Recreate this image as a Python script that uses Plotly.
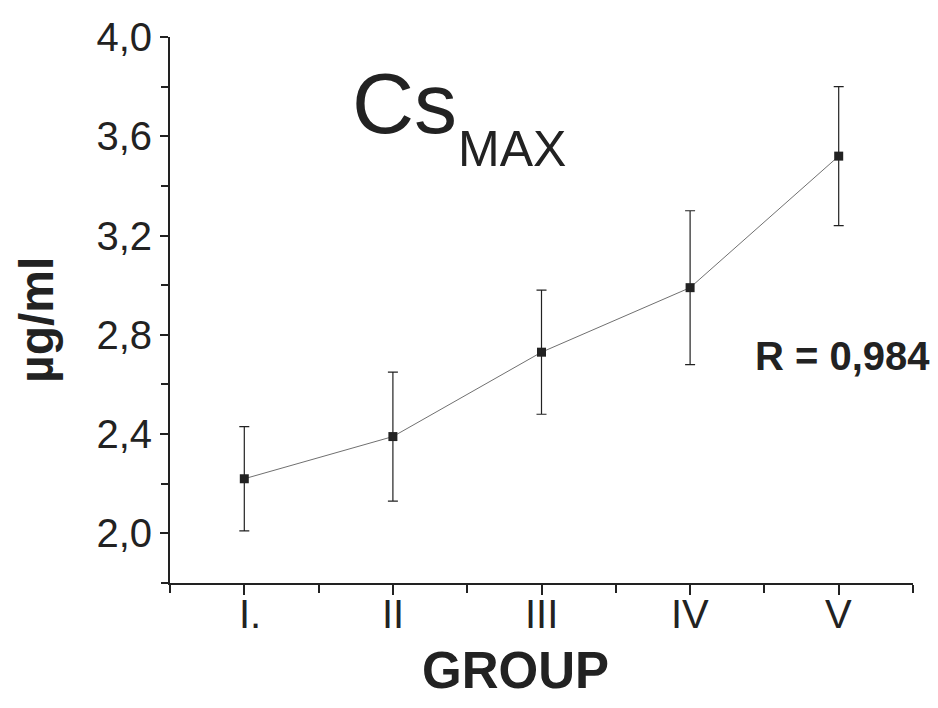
import plotly.graph_objects as go

groups = [1, 2, 3, 4, 5]
group_labels = ["I.", "II", "III", "IV", "V"]
cs_max = [2.22, 2.39, 2.73, 2.99, 3.52]
err = [0.21, 0.26, 0.25, 0.31, 0.28]

ML, MR, MT, MB = 170, 25, 37, 125
W, H = 938, 708
pw = W - ML - MR
ph = H - MT - MB
def px(xp):
    return (xp - ML) / pw
def py(yp):
    return 1 - (yp - MT) / ph

ink = "#222222"
ff = "Liberation Sans, Arial, sans-serif"

fig = go.Figure()
fig.add_trace(go.Scatter(
    x=groups, y=cs_max, mode="lines+markers",
    line=dict(color="#707070", width=1),
    marker=dict(symbol="square", size=9, color=ink),
    error_y=dict(type="data", array=err, visible=True, color=ink, thickness=1.2, width=5),
    showlegend=False,
))

fig.update_layout(
    width=W, height=H,
    margin=dict(l=ML, r=MR, t=MT, b=MB),
    paper_bgcolor="white", plot_bgcolor="white",
    separators=",.",
    font=dict(family=ff, color=ink),
    xaxis=dict(
        range=[0.5, 5.5], tickvals=groups, ticktext=[""] * len(groups),
        showline=True, linecolor=ink, linewidth=2,
        ticks="outside", ticklen=10, tickwidth=1.5, tickcolor=ink,
        minor=dict(tickvals=[0.5, 1.5, 2.5, 3.5, 4.5, 5.5], ticks="outside", ticklen=8, tickwidth=1.5, tickcolor=ink),
        showgrid=False, zeroline=False,
    ),
    yaxis=dict(
        range=[1.8, 4.0], tick0=0, dtick=0.4, tickformat=".1f",
        showline=True, linecolor=ink, linewidth=2,
        ticks="outside", ticklen=8, tickwidth=1.5, tickcolor=ink,
        minor=dict(dtick=0.2, tick0=0, ticks="outside", ticklen=7, tickwidth=1.5, tickcolor=ink),
        showgrid=False, zeroline=False,
        tickfont=dict(size=40, family=ff, color=ink),
    ),
)

# x tick labels
for g, lab in zip(groups, group_labels):
    fig.add_annotation(text=lab, x=g, xref="x", y=py(614), yref="paper",
                       showarrow=False, xanchor="center", yanchor="middle",
                       xshift=6 if lab.endswith(".") else 0,
                       font=dict(size=40, family=ff, color=ink))

# axis titles
fig.add_annotation(text="<b>GROUP</b>", x=px(515), y=py(670), xref="paper", yref="paper",
                   showarrow=False, xanchor="center", yanchor="middle",
                   font=dict(size=51, family=ff, color=ink))
fig.add_annotation(text="<b>µg/ml</b>", x=px(36), y=py(320), xref="paper", yref="paper",
                   showarrow=False, xanchor="center", yanchor="middle", textangle=-90,
                   font=dict(size=48, family=ff, color=ink))

# title pieces
fig.add_annotation(text="Cs", x=px(350), y=py(153), xref="paper", yref="paper",
                   showarrow=False, xanchor="left", yanchor="bottom",
                   font=dict(size=86, family=ff, color=ink))
fig.add_annotation(text="MAX", x=px(456), y=py(179), xref="paper", yref="paper",
                   showarrow=False, xanchor="left", yanchor="bottom",
                   font=dict(size=50, family=ff, color=ink))

fig.add_annotation(text="<b>R = 0,984</b>", x=px(842), y=py(356), xref="paper", yref="paper",
                   showarrow=False, xanchor="center", yanchor="middle",
                   font=dict(size=40, family=ff, color=ink))

fig.write_html("out.html")
